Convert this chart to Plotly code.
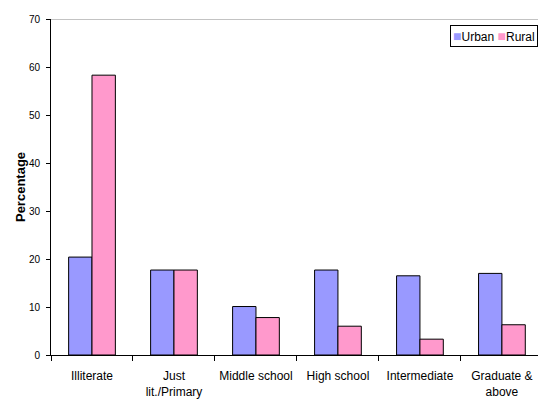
import plotly.graph_objects as go

# Education level distribution by area
categories = ["Illiterate", "Just<br>lit./Primary", "Middle school",
              "High school", "Intermediate", "Graduate &<br>above"]
urban = [20.4, 17.7, 10.1, 17.7, 16.5, 17.0]
rural = [58.3, 17.7, 7.8, 6.0, 3.3, 6.3]
y_ticks = [0, 10, 20, 30, 40, 50, 60, 70]
series_names = ["Urban", "Rural"]
series_colors = ["#9999FF", "#FF99CC"]

FONT = "Liberation Sans"

fig = go.Figure()
for name, vals, col in zip(series_names, [urban, rural], series_colors):
    fig.add_trace(go.Bar(name=name, x=categories, y=vals,
                         marker=dict(color=col, line=dict(color="#000000", width=1))))

# thin grey line across the top of the plot at the axis maximum
fig.add_shape(type="line", xref="paper", x0=0, x1=1, yref="y",
              y0=y_ticks[-1], y1=y_ticks[-1], line=dict(color="#888888", width=1))

# compact boxed legend
legend_text = " ".join(
    f"<span style='color:{c};font-size:14px'>■</span>{n}"
    for n, c in zip(series_names, series_colors)
)
fig.add_annotation(xref="paper", yref="paper", x=1, y=0.982,
                   xanchor="right", yanchor="top", showarrow=False,
                   text=legend_text, font=dict(size=12, family=FONT),
                   bordercolor="#000000", borderwidth=1, borderpad=2,
                   bgcolor="white")

fig.update_layout(
    width=538, height=399,
    margin=dict(l=51, r=0, t=19, b=44, autoexpand=False),
    paper_bgcolor="white", plot_bgcolor="white",
    barmode="group", bargap=0.43, bargroupgap=0,
    font=dict(family=FONT, color="#000000", size=10),
    showlegend=False,
)
fig.update_xaxes(
    range=[-0.5, 5.44], showline=True, linecolor="#000000", linewidth=1,
    ticks="outside", tickson="boundaries", ticklen=5, tickcolor="#000000",
    showgrid=False, tickfont=dict(size=12), tickangle=0, ticklabelstandoff=10,
    automargin=False, fixedrange=True,
)
fig.update_yaxes(
    range=[0, 70], tickvals=y_ticks, showline=True, linecolor="#000000",
    linewidth=1, ticks="outside", ticklen=4, tickcolor="#000000",
    showgrid=False, zeroline=False, tickfont=dict(size=10), ticklabelstandoff=4,
    automargin=False,
    title=dict(text="<b>Percentage</b>", font=dict(size=13), standoff=0),
)

fig.write_html("out.html", config={"displayModeBar": False})
